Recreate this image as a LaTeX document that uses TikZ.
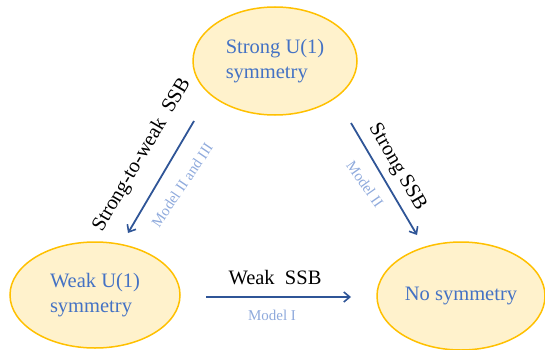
\documentclass[tikz,border=0pt]{standalone}
\usepackage{fontspec}
\setmainfont{Liberation Serif}
\usetikzlibrary{shapes.geometric,arrows.meta}
\definecolor{txtblue}{HTML}{4472C4}
\definecolor{fillyel}{HTML}{FFF2CC}
\definecolor{bordyel}{HTML}{FFC000}
\definecolor{arrblue}{HTML}{2F5597}
\definecolor{modblue}{HTML}{8FAADC}
\tikzset{
  state/.style={ellipse, draw=bordyel, line width=1.5pt, fill=fillyel, inner sep=0pt,
    text=txtblue, font=\fontsize{20.5}{25}\selectfont, align=left},
  trans/.style={draw=arrblue, line width=1.8pt, -{Straight Barb[length=6pt,width=10pt,line width=1.6pt]}},
  biglabel/.style={font=\fontsize{20.5}{24}\selectfont, text=black, inner sep=0pt},
  modlabel/.style={font=\fontsize{15}{18}\selectfont, text=modblue, inner sep=0pt}
}
\begin{document}
\begin{tikzpicture}[x=1pt,y=1pt]
\useasboundingbox (0,0) rectangle (545,349);
\node[state, minimum width=164pt, minimum height=108pt] (strong) at (275,288) {Strong U(1)\\symmetry};
\node[state, minimum width=170pt, minimum height=106pt] (weak) at (95,54) {Weak U(1)\\symmetry};
\node[state, minimum width=168pt, minimum height=108pt] (none) at (461,53) {No symmetry};
\coordinate (a1s) at (194,228);
\coordinate (a1e) at (128,116);
\coordinate (a2s) at (351,226);
\coordinate (a2e) at (417,114);
\coordinate (a3s) at (206,52);
\coordinate (a3e) at (351,52);
\draw[trans] (a1s) -- (a1e);
\draw[trans] (a2s) -- (a2e);
\draw[trans] (a3s) -- (a3e);
\node[biglabel, rotate=59.5] (l1) at (142,194) {Strong-to-weak\ \ SSB};
\node[modlabel, rotate=56] (m1) at (182,164) {Model II and III};
\node[biglabel, rotate=-60] (l2) at (397,182) {Strong SSB};
\node[modlabel, rotate=-55] (m2) at (365,165) {Model II};
\node[biglabel] (l3) at (275,71) {Weak\ \ SSB};
\node[modlabel] (m3) at (272,34) {Model I};
\end{tikzpicture}
\end{document}
